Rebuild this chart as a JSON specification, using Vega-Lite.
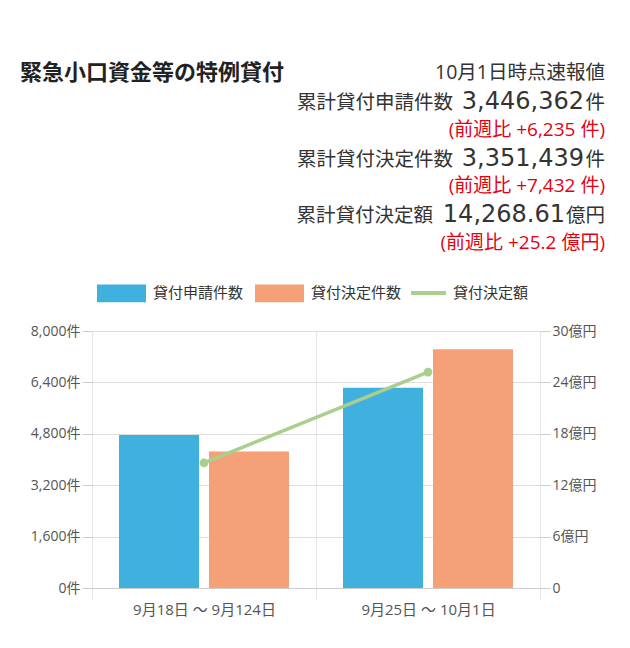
{
  "$schema": "https://vega.github.io/schema/vega-lite/v6.json",
  "background": "white",
  "padding": {"left": 20, "top": 59, "right": 24, "bottom": 10},
  "bounds": "flush",
  "spacing": 74,
  "config": {
    "font": "Open Sans, Noto Sans CJK JP",
    "view": {"stroke": null},
    "axis": {"labelFont": "Open Sans, Noto Sans CJK JP", "labelFontSize": 14, "labelColor": "#555555"},
    "legend": {"labelFont": "Open Sans, Noto Sans CJK JP"}
  },
  "datasets": {
    "header": [
      {"row": 0, "seg": "title", "text": "緊急小口資金等の特例貸付"},
      {"row": 0, "seg": "note", "text": "10月1日時点速報値"},
      {"row": 1, "seg": "label", "text": "累計貸付申請件数"},
      {"row": 1, "seg": "num", "text": "3,446,362"},
      {"row": 1, "seg": "unit", "text": "件"},
      {"row": 2, "seg": "delta", "text": "(前週比 +6,235 件)"},
      {"row": 3, "seg": "label", "text": "累計貸付決定件数"},
      {"row": 3, "seg": "num", "text": "3,351,439"},
      {"row": 3, "seg": "unit", "text": "件"},
      {"row": 4, "seg": "delta", "text": "(前週比 +7,432 件)"},
      {"row": 5, "seg": "label_amt", "text": "累計貸付決定額"},
      {"row": 5, "seg": "num_amt", "text": "14,268.61"},
      {"row": 5, "seg": "unit", "text": "億円"},
      {"row": 6, "seg": "delta", "text": "(前週比 +25.2 億円)"}
    ],
    "bars": [
      {"period": "9月18日 ～ 9月124日", "series": "貸付申請件数", "count": 4760},
      {"period": "9月18日 ～ 9月124日", "series": "貸付決定件数", "count": 4250},
      {"period": "9月25日 ～ 10月1日", "series": "貸付申請件数", "count": 6235},
      {"period": "9月25日 ～ 10月1日", "series": "貸付決定件数", "count": 7432}
    ],
    "amount": [
      {"period": "9月18日 ～ 9月124日", "series": "貸付決定額", "amount": 14.6},
      {"period": "9月25日 ～ 10月1日", "series": "貸付決定額", "amount": 25.2}
    ]
  },
  "vconcat": [
    {
      "width": 513,
      "height": 198,
      "data": {"name": "header"},
      "encoding": {
        "y": {"field": "row", "type": "ordinal", "scale": {"type": "point", "padding": 0.5, "domain": [0, 1, 2, 3, 4, 5, 6]}, "axis": null},
        "text": {"field": "text"}
      },
      "layer": [
        {
          "transform": [{"filter": "datum.seg === 'title'"}],
          "mark": {"type": "text", "align": "left", "baseline": "middle", "fontSize": 22, "fontWeight": "bold", "color": "#222222", "font": "Noto Sans CJK JP"},
          "encoding": {"x": {"value": -72}}
        },
        {
          "transform": [{"filter": "datum.seg === 'note'"}],
          "mark": {"type": "text", "align": "right", "baseline": "middle", "fontSize": 19.5, "color": "#333333"},
          "encoding": {"x": {"value": 513}}
        },
        {
          "transform": [{"filter": "datum.seg === 'unit'"}],
          "mark": {"type": "text", "align": "right", "baseline": "alphabetic", "dy": 7.5, "fontSize": 19.5, "color": "#333333"},
          "encoding": {"x": {"value": 513}}
        },
        {
          "transform": [{"filter": "datum.seg === 'num'"}],
          "mark": {"type": "text", "align": "right", "baseline": "alphabetic", "dy": 7.5, "fontSize": 24, "font": "DejaVu Sans", "color": "#333333"},
          "encoding": {"x": {"value": 492}}
        },
        {
          "transform": [{"filter": "datum.seg === 'num_amt'"}],
          "mark": {"type": "text", "align": "right", "baseline": "alphabetic", "dy": 7.5, "fontSize": 24, "font": "DejaVu Sans", "color": "#333333"},
          "encoding": {"x": {"value": 473}}
        },
        {
          "transform": [{"filter": "datum.seg === 'label'"}],
          "mark": {"type": "text", "align": "right", "baseline": "alphabetic", "dy": 7.5, "fontSize": 19.5, "color": "#333333"},
          "encoding": {"x": {"value": 361}}
        },
        {
          "transform": [{"filter": "datum.seg === 'label_amt'"}],
          "mark": {"type": "text", "align": "right", "baseline": "alphabetic", "dy": 7.5, "fontSize": 19.5, "color": "#333333"},
          "encoding": {"x": {"value": 341}}
        },
        {
          "transform": [{"filter": "datum.seg === 'delta'"}],
          "mark": {"type": "text", "align": "right", "baseline": "middle", "fontSize": 19, "color": "#e60012"},
          "encoding": {"x": {"value": 513}}
        }
      ]
    },
    {
      "width": 448,
      "height": 257,
      "layer": [
        {
          "data": {"name": "bars"},
          "mark": {"type": "bar"},
          "encoding": {
            "x": {
              "field": "period", "type": "nominal", "sort": null,
              "scale": {"paddingInner": 0, "paddingOuter": 0},
              "axis": {"title": null, "labelAngle": 0, "tickBand": "extent", "grid": true, "gridColor": "#e6e6e6", "domainColor": "#cccccc", "tickColor": "#e6e6e6", "tickSize": 12, "labelPadding": 2, "labelFontSize": 15}
            },
            "xOffset": {
              "field": "series", "type": "nominal", "sort": ["貸付申請件数", "貸付決定件数"],
              "scale": {"paddingInner": 0.111, "paddingOuter": 0.3}
            },
            "y": {
              "field": "count", "type": "quantitative",
              "scale": {"domain": [0, 8000], "nice": false},
              "axis": {"title": null, "values": [0, 1600, 3200, 4800, 6400, 8000], "labelExpr": "format(datum.value, ',') + '件'", "grid": true, "gridColor": "#dddddd", "domain": false, "tickColor": "#cccccc", "tickSize": 10, "labelPadding": 2}
            },
            "color": {
              "field": "series", "type": "nominal",
              "scale": {"domain": ["貸付申請件数", "貸付決定件数"], "range": ["#40b0df", "#f5a077"]},
              "legend": {
                "orient": "none", "legendX": 5, "legendY": -62.5, "direction": "horizontal", "title": null,
                "symbolSize": 2401, "symbolStrokeWidth": 0, "symbolType": "M-1,-0.36H1V0.36H-1Z", "symbolOpacity": 1,
                "labelFontSize": 15, "labelColor": "#333333", "labelOffset": 7, "columnPadding": 11
              }
            }
          }
        },
        {
          "data": {"name": "amount"},
          "mark": {"type": "line", "strokeWidth": 3.5, "point": {"filled": true, "size": 45, "color": "#a9cf8d"}},
          "encoding": {
            "x": {"field": "period", "type": "nominal", "sort": null},
            "y": {
              "field": "amount", "type": "quantitative",
              "scale": {"domain": [0, 30], "nice": false},
              "axis": {"orient": "right", "title": null, "values": [0, 6, 12, 18, 24, 30], "labelExpr": "datum.value === 0 ? '0' : datum.value + '億円'", "grid": false, "domain": false, "tickColor": "#cccccc", "tickSize": 10, "labelPadding": 2}
            },
            "stroke": {
              "field": "series", "type": "nominal",
              "scale": {"domain": ["貸付決定額"], "range": ["#a9cf8d"]},
              "legend": {
                "orient": "none", "legendX": 317, "legendY": -57.5, "direction": "horizontal", "title": null,
                "symbolSize": 1225, "symbolStrokeWidth": 4, "symbolType": "M-1,0H1", "symbolOpacity": 1,
                "labelFontSize": 15, "labelColor": "#333333", "labelOffset": 5
              }
            }
          }
        }
      ],
      "resolve": {"scale": {"y": "independent"}}
    }
  ],
  "resolve": {"scale": {"color": "independent", "stroke": "independent"}, "legend": {"color": "independent", "stroke": "independent"}}
}
